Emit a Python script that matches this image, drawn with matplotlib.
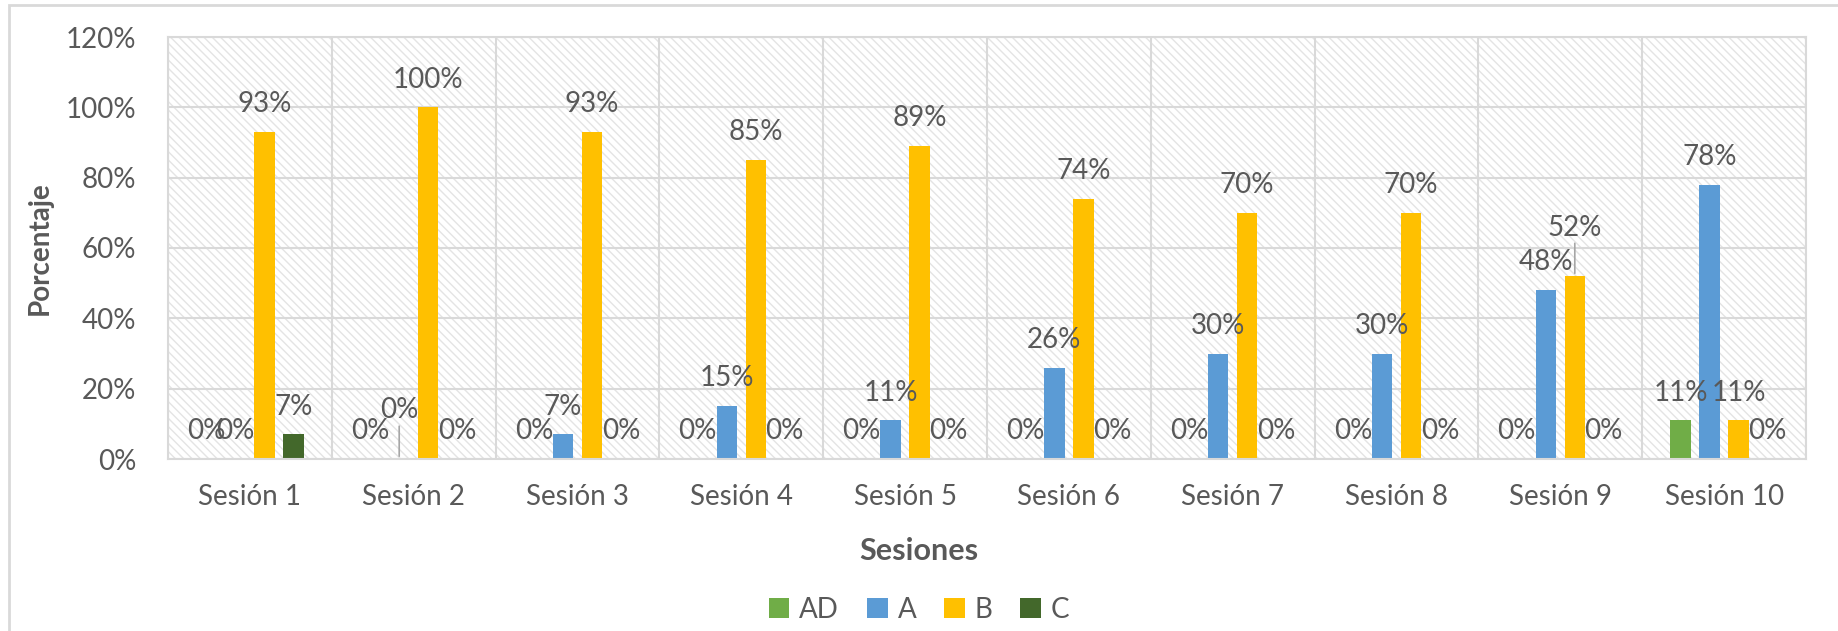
import numpy as np
import matplotlib
matplotlib.use('Agg')
import matplotlib.pyplot as plt
from matplotlib.patches import Rectangle

plt.rcParams['font.family'] = ['Lato', 'DejaVu Sans']
plt.rcParams['hatch.linewidth'] = 1.0

sesiones = ['Sesión 1', 'Sesión 2', 'Sesión 3', 'Sesión 4', 'Sesión 5',
            'Sesión 6', 'Sesión 7', 'Sesión 8', 'Sesión 9', 'Sesión 10']
niveles = ['AD', 'A', 'B', 'C']
ad = [0, 0, 0, 0, 0, 0, 0, 0, 0, 11]
a = [0, 0, 7, 15, 11, 26, 30, 30, 48, 78]
b = [93, 100, 93, 85, 89, 74, 70, 70, 52, 11]
c = [7, 0, 0, 0, 0, 0, 0, 0, 0, 0]
series = [ad, a, b, c]
colores = ['#70ad47', '#5b9bd5', '#ffc000', '#43682b']

gris = '#595959'
linea = '#d9d9d9'
fs = 20

fig = plt.figure(figsize=(18.38, 6.31), dpi=100)
ax = fig.add_axes([168/1838, 1 - 459/631, (1806-168)/1838, (459-37)/631])

# fondo con trama diagonal
ax.add_patch(Rectangle((0, 0), 1, 1, transform=ax.transAxes, facecolor='white',
                       edgecolor='#e4e4e4', hatch='\\\\\\\\', linewidth=0, zorder=0.1))

x = np.arange(len(sesiones))
paso = 0.177
ancho = 0.125

for i, (vals, col) in enumerate(zip(series, colores)):
    pos = x + (i - 1.5) * paso
    ax.bar(pos, vals, width=ancho, color=col, label=niveles[i], zorder=2)
    for j, (px, v) in enumerate(zip(pos, vals)):
        # etiquetas desplazadas por Excel (con linea guia)
        if (i == 1 and j == 1) or (i == 2 and j == 8):
            ax.annotate(f'{v}%', xy=(px, v), xytext=(0, 35), textcoords='offset points',
                        ha='center', va='center', fontsize=fs, color=gris, zorder=3,
                        arrowprops=dict(arrowstyle='-', color='#a6a6a6', lw=1.2,
                                        shrinkA=0, shrinkB=2))
        else:
            ax.annotate(f'{v}%', xy=(px, v), xytext=(0, 20), textcoords='offset points',
                        ha='center', va='center', fontsize=fs, color=gris, zorder=3)

ax.set_xlim(-0.5, len(sesiones) - 0.5)
ax.set_ylim(0, 120)
ax.set_yticks(np.arange(0, 121, 20))
ax.set_yticklabels([f'{t}%' for t in range(0, 121, 20)])
ax.set_xticks(x)
ax.set_xticklabels(sesiones)
ax.set_xticks(np.arange(-0.5, len(sesiones), 1), minor=True)

ax.set_axisbelow(True)
ax.grid(axis='y', which='major', color=linea, lw=1.5, zorder=0.5)
ax.grid(axis='x', which='minor', color=linea, lw=1.5, zorder=0.5)
ax.tick_params(axis='both', which='both', length=0, colors=gris, labelsize=fs)
ax.tick_params(axis='y', pad=23)
ax.tick_params(axis='x', pad=18)
for s in ax.spines.values():
    s.set_color(linea)
    s.set_linewidth(1.5)

ax.set_ylabel('Porcentaje', fontsize=fs, fontweight='bold', color=gris, labelpad=9)
fig.text(919/1838, 1 - 551/631, 'Sesiones', fontsize=22, fontweight='bold', color=gris,
         ha='center', va='center')

fig.legend(loc='center', bbox_to_anchor=(919/1838, 1 - 610/631), ncol=4, frameon=False,
           fontsize=fs, labelcolor=gris, handlelength=0.75, handleheight=0.75,
           handletextpad=0.35, columnspacing=1.0)

# borde del grafico
fig.add_artist(Rectangle((9/1838, -0.05), 1.2, 1.05 - 5/631, transform=fig.transFigure,
                         fill=False, edgecolor=linea, lw=2))

fig.savefig('out.png', dpi=100)
